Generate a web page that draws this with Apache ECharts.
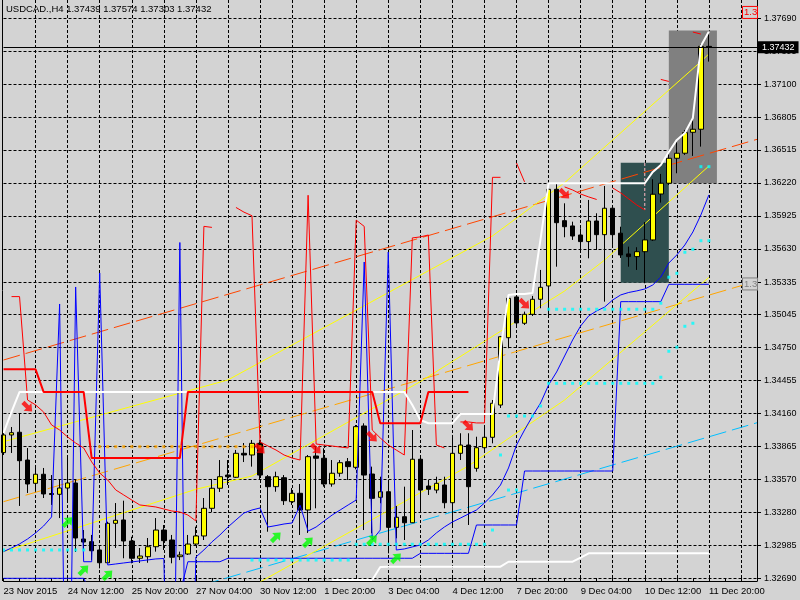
<!DOCTYPE html>
<html><head><meta charset="utf-8">
<script src="https://cdn.jsdelivr.net/npm/echarts@6/dist/echarts.min.js"></script>
<style>html,body{margin:0;padding:0;background:#d3d3d3}#c{width:800px;height:600px}</style>
</head><body><div id="c"></div>
<script>
const symbolName = 'USDCAD.,H4';
const xLabels = ['23 Nov 2015','24 Nov 12:00','25 Nov 20:00','27 Nov 04:00','30 Nov 12:00','1 Dec 20:00','3 Dec 04:00','4 Dec 12:00','7 Dec 20:00','9 Dec 04:00','10 Dec 12:00','11 Dec 20:00'];
const yTicks = [1.32690,1.32985,1.33280,1.33570,1.33865,1.34160,1.34455,1.34750,1.35045,1.35335,1.35630,1.35925,1.36220,1.36515,1.36805,1.37100,1.37395,1.37690];

const opens = [1.33812,1.33970,1.33994,1.33746,1.33538,1.33619,1.33447,1.33440,1.33496,1.33541,1.33041,1.33017,1.32943,1.32829,1.33181,1.33211,1.33023,1.32869,1.32883,1.32972,1.33121,1.33032,1.32883,1.32907,1.32996,1.33068,1.33315,1.33494,1.33612,1.33592,1.33806,1.33791,1.33895,1.33597,1.33508,1.33588,1.33374,1.33449,1.33300,1.33782,1.33762,1.33532,1.33628,1.33731,1.33681,1.34050,1.33621,1.33413,1.33463,1.33145,1.33240,1.33186,1.33753,1.33514,1.33478,1.33523,1.33365,1.33806,1.33880,1.33672,1.33856,1.33949,1.34237,1.34838,1.35202,1.34967,1.35047,1.35181,1.35300,1.36163,1.35883,1.35836,1.35755,1.35696,1.35880,1.35758,1.35994,1.35771,1.35586,1.35562,1.35606,1.35711,1.36121,1.36217,1.36440,1.36485,1.36672,1.36699,1.37439];
const closes = [1.33970,1.33990,1.33740,1.33532,1.33619,1.33443,1.33438,1.33496,1.33541,1.33050,1.33014,1.32936,1.32829,1.33181,1.33208,1.33023,1.32869,1.32889,1.32972,1.33121,1.33026,1.32878,1.32898,1.32996,1.33068,1.33315,1.33494,1.33597,1.33597,1.33806,1.33791,1.33895,1.33612,1.33508,1.33597,1.33383,1.33449,1.33300,1.33776,1.33762,1.33532,1.33628,1.33722,1.33687,1.34044,1.33612,1.33404,1.33463,1.33145,1.33235,1.33186,1.33753,1.33478,1.33485,1.33538,1.33365,1.33806,1.33880,1.33508,1.33856,1.33949,1.34253,1.34847,1.35190,1.34970,1.35047,1.35181,1.35288,1.36163,1.35865,1.35829,1.35746,1.35696,1.35880,1.35758,1.35994,1.35758,1.35577,1.35562,1.35606,1.35711,1.36119,1.36217,1.36440,1.36485,1.36669,1.36699,1.37439,1.37432];
const lows = [1.33791,1.33809,1.33336,1.33452,1.33478,1.33407,1.33345,1.33228,1.33389,1.32925,1.32943,1.32853,1.32779,1.32827,1.32961,1.32869,1.32824,1.32827,1.32829,1.32928,1.32943,1.32824,1.32853,1.32898,1.32978,1.33032,1.33282,1.33461,1.33523,1.33586,1.33728,1.33687,1.33568,1.33106,1.33463,1.33345,1.33345,1.33077,1.33095,1.33315,1.33508,1.33508,1.33597,1.33568,1.33663,1.33121,1.33092,1.33360,1.32913,1.33047,1.33032,1.33184,1.33285,1.33434,1.33449,1.33315,1.33151,1.33746,1.33166,1.33642,1.33836,1.33895,1.34211,1.34744,1.34943,1.34952,1.35032,1.35101,1.35041,1.35472,1.35735,1.35711,1.35628,1.35547,1.35621,1.35160,1.35666,1.35550,1.35472,1.35443,1.35324,1.35702,1.36044,1.36202,1.36306,1.36470,1.36461,1.36544,1.37303];
const highs = [1.33987,1.34041,1.34166,1.33853,1.33702,1.33675,1.33612,1.33568,1.33764,1.33568,1.33121,1.33077,1.32972,1.33195,1.33362,1.33383,1.33061,1.32961,1.33050,1.33228,1.33166,1.33077,1.32928,1.33077,1.33151,1.33407,1.33577,1.33746,1.33746,1.33836,1.33898,1.33925,1.33925,1.33612,1.33642,1.33612,1.33496,1.33532,1.33791,1.33865,1.33851,1.33746,1.33746,1.33764,1.34059,1.34074,1.33687,1.33597,1.33553,1.33336,1.33508,1.34014,1.33791,1.33568,1.33597,1.33597,1.33970,1.33985,1.33985,1.33954,1.34044,1.34282,1.34854,1.35204,1.35220,1.35071,1.35211,1.35443,1.36217,1.36217,1.36038,1.35874,1.35815,1.36068,1.35949,1.36193,1.36008,1.35829,1.35651,1.35646,1.35871,1.36253,1.36300,1.36485,1.36588,1.36693,1.36797,1.37460,1.37574];

const whiteHigh = [1.33987,1.34175,1.34354,1.34354,1.34354,1.34354,1.34354,1.34354,1.34354,1.34354,1.34354,1.34354,1.34354,1.34354,1.34354,1.34354,1.34354,1.34354,1.34354,1.34354,1.34354,1.34354,1.34354,1.34354,1.34354,1.34354,1.34354,1.34354,1.34354,1.34354,1.34354,1.34354,1.34354,1.34354,1.34354,1.34354,1.34354,1.34354,1.34354,1.34354,1.34354,1.34354,1.34354,1.34354,1.34354,1.34354,1.34354,1.34354,1.34354,1.34354,1.34354,1.34237,1.34103,1.34074,1.34074,1.34074,1.34074,1.34157,1.34157,1.34157,1.34157,1.34157,1.34729,1.35220,1.35229,1.35229,1.35238,1.35720,1.36217,1.36217,1.36217,1.36217,1.36217,1.36217,1.36217,1.36217,1.36217,1.36217,1.36217,1.36217,1.36217,1.36318,1.36380,1.36496,1.36604,1.36666,1.36800,1.37443,1.37571];
const whiteLow = [null,null,null,null,null,null,null,null,null,null,null,null,null,null,null,null,null,null,null,null,null,null,null,null,null,null,null,null,null,null,null,null,null,null,null,null,null,null,null,null,null,1.32675,1.32675,1.32675,1.32675,1.32675,1.32675,1.32791,1.32794,1.32794,1.32794,1.32794,1.32794,1.32794,1.32794,1.32794,1.32794,1.32794,1.32794,1.32794,1.32794,1.32794,1.32794,1.32838,1.32838,1.32838,1.32838,1.32838,1.32838,1.32838,1.32838,1.32838,1.32875,1.32913,1.32913,1.32913,1.32913,1.32913,1.32913,1.32913,1.32913,1.32913,1.32913,1.32913,1.32913,1.32913,1.32913,1.32913,1.32913];
const redLevel = [1.34556,1.34556,1.34556,1.34556,1.34556,1.34354,1.34354,1.34354,1.34354,1.34354,1.34354,1.33764,1.33764,1.33764,1.33764,1.33764,1.33764,1.33764,1.33764,1.33764,1.33764,1.33764,1.33764,1.34354,1.34354,1.34354,1.34354,1.34354,1.34354,1.34354,1.34354,1.34354,1.34354,1.34354,1.34354,1.34354,1.34354,1.34354,1.34354,1.34354,1.34354,1.34354,1.34354,1.34354,1.34354,1.34354,1.34354,1.34074,1.34074,1.34074,1.34074,1.34074,1.34074,1.34354,1.34354,1.34354,1.34354,1.34354,1.34354,null,null,null,null,null,null,null,null,null,null,null,null,null,null,null,null,null,null,null,null,null,null,null,null,null,null,null,null,null,null];
const redBand = [null,1.35205,1.35205,1.34282,1.34238,1.34175,1.34059,1.34014,1.33952,1.33898,1.33854,1.33729,1.33630,1.33568,1.33479,1.33434,1.33389,1.33345,1.33336,1.33327,1.33309,1.33291,1.33282,1.33255,1.33202,1.35832,1.35823,null,null,1.36001,1.35959,1.35927,1.33907,1.33871,1.33835,1.33791,1.33764,1.33746,1.36110,1.33889,1.33880,1.33871,1.33862,1.33854,1.35888,1.35832,1.34014,1.33943,1.33880,1.33835,1.33791,1.35729,1.35738,1.35755,1.33880,1.33854,null,1.34086,1.34086,1.34077,1.34077,1.36270,1.36270,null,1.36398,1.36229,null,null,null,null,1.36184,1.36157,1.36121,1.36095,1.36072,null,1.36175,1.36131,1.36077,1.36023,1.35979,null,1.37144,1.37126,null,null,1.37567,1.37549,null];
const blueBand = [1.32928,1.32961,1.32997,1.33041,1.33095,1.33157,1.33238,1.35139,1.30000,1.35291,1.32838,1.32838,1.35416,1.32809,1.32818,1.32827,1.32836,1.32845,1.32854,1.32863,1.32867,1.30000,1.35688,1.30000,1.32880,1.32943,1.33015,1.33077,1.33148,1.33211,1.33273,1.33300,1.33318,1.33148,1.33161,1.33175,1.33184,1.33342,1.33112,1.33148,1.33202,1.33255,1.33300,1.33345,1.33389,1.35514,1.33032,1.33121,1.35603,1.32943,1.32952,1.32970,1.32988,1.33032,1.33095,1.33148,1.33193,1.33228,1.33264,1.33300,1.33362,1.33434,1.33523,1.33675,1.33880,1.34014,1.34139,1.34255,1.34416,1.34532,1.34675,1.34818,1.34943,1.35032,1.35077,1.35112,1.35175,1.35220,1.35242,1.35256,1.35273,1.35309,1.35380,1.35505,1.35577,1.35666,1.35782,1.35934,1.36113];
const blueStep = [1.32690,1.32690,1.32690,1.32690,1.32690,1.32690,1.32690,1.32690,1.32690,1.32690,1.32690,1.32550,1.32550,1.32550,1.32550,1.32550,1.32550,1.32550,1.32550,1.32550,1.32550,1.32550,1.32550,1.32838,1.32838,1.32838,1.32838,1.32838,1.32869,1.32869,1.32869,1.32869,1.32869,1.32869,1.32869,1.32869,1.32869,1.32869,1.32869,1.32869,1.32869,1.32869,1.32869,1.32869,1.32869,1.32869,1.32869,1.32869,1.32869,1.32869,1.32869,1.32869,1.32913,1.32913,1.32913,1.32913,1.32913,1.32913,1.32913,1.33166,1.33166,1.33166,1.33166,1.33166,1.33166,1.33648,1.33648,1.33648,1.33648,1.33648,1.33648,1.33648,1.33648,1.33648,1.33648,1.33648,1.33648,1.35160,1.35160,1.35160,1.35160,1.35160,1.35160,1.35315,1.35315,1.35315,1.35315,1.35315,1.35315];

const yellowUpper = [[0,1.33910],[28,1.34461],[61,1.35747],[70,1.36222],[87,1.37303],[88,1.37372]];
const yellowMid = [[0,1.32928],[24,1.33485],[31,1.33603],[52,1.34446],[70,1.35255],[75,1.35532],[88,1.36371]];
const yellowLow = [[32,1.32657],[58,1.33693],[70,1.34282],[88,1.35376]];
const chanTop = [[0,1.34639],[94,1.36609]];
const chanMid = [[0,1.33374],[94,1.35344]];
const chanBot = [[0,1.32110],[94,1.34079]];
const separator = [[80,1.36398],[80,1.35979]];

const cyanDots = [[0,1.32943],[1,1.32943],[2,1.32943],[3,1.32943],[4,1.32943],[5,1.32943],[6,1.32943],[7,1.32943],[8,1.32943],[9,1.32943],[10,1.32943],
 [31,1.32853],[32,1.32853],[33,1.32853],[34,1.32853],[35,1.32853],[36,1.32853],[37,1.32853],[38,1.32853],[39,1.32853],[40,1.32853],[41,1.32853],[42,1.32853],[43,1.32853],
 [44,1.32994],[45,1.32994],[46,1.32994],[47,1.32994],[48,1.32994],[49,1.32994],[50,1.32994],[51,1.32994],[52,1.32994],[53,1.32994],[54,1.32994],[55,1.32994],[56,1.32994],[57,1.32994],[58,1.32994],[59,1.32994],[60,1.32994],
 [61,1.33121],[62,1.33791],[63,1.33478],[64,1.33478],[63,1.34139],[64,1.34139],[65,1.34139],[66,1.34139],[67,1.34228],
 [68,1.34431],[69,1.34431],[70,1.34431],[71,1.34431],[72,1.34431],[73,1.34431],[74,1.34431],[75,1.34431],[76,1.34431],[77,1.34431],[78,1.34431],[79,1.34431],[80,1.34431],[81,1.34431],
 [68,1.35092],[69,1.35092],[70,1.35092],[71,1.35092],[72,1.35092],[73,1.35092],[74,1.35092],[75,1.35092],[76,1.35092],[77,1.35092],[78,1.35092],[79,1.35092],[80,1.35092],[81,1.35092],
 [82,1.35146],[82,1.34485],[83,1.35378],[84,1.35413],[85,1.34940],[86,1.34967],[83,1.34717],[84,1.34753],[85,1.35601],[86,1.35628],[87,1.35704],[88,1.35704],[87,1.36365],[88,1.36365]];
const orangeDots = [[12,1.33865],[13,1.33865],[14,1.33865],[15,1.33865],[16,1.33865],[17,1.33865],[18,1.33865],[19,1.33865],[20,1.33865],[21,1.33865],[22,1.33865],[23,1.33865],[24,1.33865],[25,1.33865],[26,1.33865],[27,1.33865],[28,1.33865],[29,1.33865],[30,1.33865],[31,1.33865],[32,1.33865]];
const sellArrows = [[3,1.34220],[32,1.33845],[39,1.33845],[46,1.33952],[58,1.34050],[65,1.35139],[70,1.36121]];
const buyArrows = [[8,1.33193],[10,1.32764],[13,1.32719],[34,1.33059],[38,1.33014],[46,1.33032],[49,1.32871]];
const rectTeal = [77,1.36401,83,1.35329];
const rectGray = [83,1.37580,89,1.36217];
const redTagPrice = 1.37742;
const grayTagPrice = 1.35318;

const N = 95;
const cats = [];
for (let i = 0; i < N; i++) cats.push(String(i));
const candles = opens.map((o, i) => [o, closes[i], lows[i], highs[i]]);
const last = candles.length - 1;
const F = 'Liberation Sans';

function line(data, color, width, type, z) {
  return {type:'line', data, symbol:'none', connectNulls:false, animation:false, silent:true, z: z || 4,
    lineStyle:{color, width, type: type || 'solid'}};
}
function dots(data, color, size) {
  return {type:'scatter', data, symbol:'rect', symbolSize:size, itemStyle:{color}, animation:false, silent:true, z:4};
}
const arrowPath = 'path://M0,3L5,3L5,0L10,5L5,10L5,7L0,7Z';

const chart = echarts.init(document.getElementById('c'), null, {width:800, height:600});
chart.setOption({
  backgroundColor:'#d3d3d3',
  animation:false,
  grid:{left:3.5, right:43, top:0, bottom:19},
  xAxis:{type:'category', data:cats, boundaryGap:false,
    axisLine:{show:true, lineStyle:{color:'#000', width:1}},
    axisTick:{show:true, inside:true, length:3, interval:(i)=>i%2===0, lineStyle:{color:'#000'}},
    axisLabel:{interval:(i)=>i%8===0 && i<=88, formatter:(v,i)=>xLabels[i/8] || '', align:'left', margin:5,
      color:'#000', fontFamily:F, fontSize:9.5},
    splitLine:{show:true, interval:(i)=>i%4===0 && i>0, lineStyle:{color:'#000', type:[3,2], width:1}}},
  yAxis:{type:'value', position:'right', min:1.32666, max:1.37853,
    axisLine:{show:true, lineStyle:{color:'#000', width:1}},
    axisTick:{show:true, customValues:yTicks, length:4, lineStyle:{color:'#000'}},
    axisLabel:{customValues:yTicks, formatter:(v)=>v.toFixed(5), margin:7, color:'#000', fontFamily:F, fontSize:9},
    splitLine:{show:true, lineStyle:{color:'#000', type:[3,2], width:1}}},
  series:[
    {type:'line', data:[], z:-1, silent:true, markArea:{silent:true, data:[
      [{xAxis:rectGray[0], yAxis:rectGray[1], itemStyle:{color:'#808080', opacity:1}}, {xAxis:rectGray[2], yAxis:rectGray[3]}],
      [{xAxis:rectTeal[0], yAxis:rectTeal[1], itemStyle:{color:'#2f4f4f', opacity:1}}, {xAxis:rectTeal[2], yAxis:rectTeal[3]}]
    ]}},
    {type:'line', data:[], z:6, silent:true,
      markLine:{silent:true, symbol:'none', animation:false, precision:5,
        lineStyle:{color:'#000', width:1, type:'solid'},
        label:{show:true, position:'end', distance:1, formatter:closes[last].toFixed(5), color:'#fff', backgroundColor:'#000',
          padding:[2,4,1,4], fontFamily:F, fontSize:9},
        data:[{yAxis:closes[last]}]}},
    line(separator, '#ffb6c1', 1, [3,2], 1),
    line(chanTop, '#ff4500', 1, [17,6], 2),
    line(chanMid, '#ffa500', 1, [17,6], 2),
    line(chanBot, '#00bfff', 1, [17,6], 2),
    line(yellowUpper, '#ffff00', 1, 'solid', 2),
    line(yellowMid, '#ffff00', 1, 'solid', 2),
    line(yellowLow, '#ffff00', 1, 'solid', 2),
    {type:'candlestick', data:candles, barWidth:5, z:3, silent:true, animation:false,
      itemStyle:{color:'#ffff00', color0:'#000000', borderColor:'#000000', borderColor0:'#000000', borderWidth:1}},
    line(blueStep, '#0000ff', 1),
    line(blueBand, '#0000ff', 1),
    line(redBand, '#ff0000', 1),
    line(whiteLow, '#ffffff', 2),
    line(whiteHigh, '#ffffff', 2),
    line(redLevel, '#ff0000', 2),
    dots(cyanDots, '#00ffff', 3),
    dots(orangeDots, '#ffa500', 3),
    {type:'scatter', data:sellArrows, symbol:arrowPath, symbolSize:[13,11], symbolRotate:-45, itemStyle:{color:'#ff0000'}, z:5, silent:true, animation:false},
    {type:'scatter', data:buyArrows, symbol:arrowPath, symbolSize:[13,11], symbolRotate:45, itemStyle:{color:'#00ff00'}, z:5, silent:true, animation:false}
  ]
});

const yRed = chart.convertToPixel({yAxisIndex:0}, redTagPrice);
const yGray = chart.convertToPixel({yAxisIndex:0}, grayTagPrice);
const title = symbolName + ' ' + [opens[last], highs[last], lows[last], closes[last]].map(v=>v.toFixed(5)).join(' ');
chart.setOption({graphic:[
  {type:'text', left:6, top:4, style:{text:title, fill:'#000', font:'9.5px "Liberation Sans"'}, z:10},
  {type:'line', shape:{x1:2.5, y1:0, x2:2.5, y2:581}, style:{stroke:'#000', lineWidth:1}, z:10},
  {type:'rect', shape:{x:742.5, y:yRed-6, width:15, height:12}, style:{fill:'#d3d3d3', stroke:'#ff0000', lineWidth:1}, z:10},
  {type:'text', x:744, y:yRed-5, style:{text:'1.3', fill:'#ff0000', font:'9.5px "Liberation Sans"'}, z:11},
  {type:'rect', shape:{x:742.5, y:yGray-6, width:15, height:12}, style:{fill:'#d3d3d3', stroke:'#808080', lineWidth:1}, z:10},
  {type:'text', x:744, y:yGray-5, style:{text:'1.3', fill:'#808080', font:'9.5px "Liberation Sans"'}, z:11}
]});
</script></body></html>
